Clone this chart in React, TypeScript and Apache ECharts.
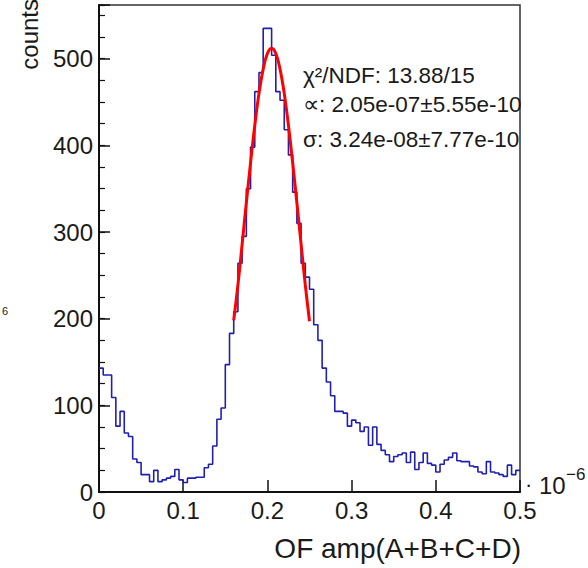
import React, { useEffect, useRef } from "react";
import * as echarts from "echarts";

const FONT = "'Liberation Sans', Arial, Helvetica, sans-serif";

// histogram: 100 bins from 0 to 0.5 (x 1e-6)
const binLow = 0;
const binWidth = 0.005;
const counts = [
  143, 135, 135, 109, 76, 93, 68, 64, 38, 34,
  20, 20, 12, 25, 12, 14, 16, 18, 26, 14,
  11, 16, 16, 17, 17, 28, 32, 53, 84, 97,
  147, 183, 208, 264, 295, 350, 398, 462, 484, 535,
  535, 504, 462, 452, 418, 389, 346, 310, 264, 248,
  234, 193, 175, 143, 127, 111, 93, 93, 91, 76,
  83, 80, 70, 75, 54, 75, 55, 48, 43, 35,
  41, 43, 45, 34, 46, 26, 34, 45, 33, 31,
  23, 32, 37, 40, 45, 36, 35, 35, 30, 29,
  23, 21, 35, 23, 22, 20, 18, 31, 20, 25,
];

// red fit curve
const fitX = [0.16, 0.165, 0.17, 0.175, 0.18, 0.185, 0.19, 0.195, 0.2, 0.205, 0.21, 0.215, 0.22, 0.225, 0.23, 0.235, 0.24, 0.245, 0.25];
const fitY = [198, 239, 286, 334, 380, 423, 460, 488, 506, 512, 506, 488, 460, 423, 380, 334, 286, 239, 197];

const xTickValues = [0, 0.1, 0.2, 0.3, 0.4, 0.5];
const statLines = ["χ²/NDF: 13.88/15", "∝: 2.05e-07±5.55e-10", "σ: 3.24e-08±7.77e-10"];
const xTitle = "OF amp(A+B+C+D)";
const yTitle = "counts";

export default function App() {
  const ref = useRef<HTMLDivElement>(null);
  useEffect(() => {
    if (!ref.current) return;
    const chart = echarts.init(ref.current, undefined, { renderer: "svg" });
    const histData: number[][] = counts.map((c, i) => [binLow + i * binWidth, c]);
    histData.push([binLow + counts.length * binWidth, counts[counts.length - 1]]);
    const fitData = fitX.map((x, i) => [x, fitY[i]]);
    const txt = "#1a1a1a";
    const grid = { left: 99, top: 5, width: 421, height: 487 };
    chart.setOption({
      animation: false,
      backgroundColor: "#fff",
      grid: [
        { ...grid, show: true, borderColor: "#333", borderWidth: 1.5, backgroundColor: "transparent" },
        { ...grid, show: false },
      ],
      xAxis: [
        {
          type: "value",
          gridIndex: 0,
          min: 0,
          max: 0.5,
          interval: 0.1,
          axisLine: { show: true, onZero: false, lineStyle: { color: "#111", width: 2 } },
          axisTick: { show: true, inside: true, length: 12, lineStyle: { color: "#111", width: 1.5 } },
          splitLine: { show: false },
          axisLabel: {
            fontSize: 24,
            color: txt,
            margin: 6,
            fontFamily: FONT,
            formatter: (v: number) => {
              const t = xTickValues.find((u) => Math.abs(u - v) < 1e-9);
              return t === undefined ? "" : t === 0 ? "0" : t.toFixed(1);
            },
          },
        },
        { type: "value", gridIndex: 1, min: 0, max: 0.5, show: false },
      ],
      yAxis: [
        {
          type: "value",
          gridIndex: 0,
          min: 0,
          max: 562,
          interval: 100,
          axisLine: { show: true, onZero: false, lineStyle: { color: "#111", width: 2 } },
          axisTick: { show: true, inside: true, length: 11, lineStyle: { color: "#111", width: 1.5 } },
          splitLine: { show: false },
          axisLabel: {
            fontSize: 24,
            color: txt,
            margin: 6,
            fontFamily: FONT,
            formatter: (v: number) => (v % 100 === 0 ? String(v) : ""),
          },
        },
        {
          type: "value",
          gridIndex: 1,
          min: 0,
          max: 562,
          interval: 25,
          position: "left",
          axisLine: { show: false },
          axisTick: { show: true, inside: true, length: 6, lineStyle: { color: "#111", width: 1.2 } },
          axisLabel: { show: false },
          splitLine: { show: false },
        },
      ],
      series: [
        {
          type: "line",
          xAxisIndex: 0,
          yAxisIndex: 0,
          step: "end",
          data: histData,
          showSymbol: false,
          lineStyle: { color: "#2020b0", width: 1.6 },
          z: 2,
        },
        {
          type: "line",
          xAxisIndex: 0,
          yAxisIndex: 0,
          smooth: 0.4,
          data: fitData,
          showSymbol: false,
          lineStyle: { color: "#ff0000", width: 3 },
          z: 3,
        },
      ],
      graphic: [
        ...statLines.map((s, i) => ({
          type: "text",
          x: 303,
          y: [75, 104, 139][i],
          style: { text: s, fontSize: 22.5, fontFamily: FONT, fill: txt, align: "left", verticalAlign: "middle" },
        })),
        {
          type: "text",
          x: 521,
          y: 548,
          style: { text: xTitle, fontSize: 28, fontFamily: FONT, fill: txt, align: "right", verticalAlign: "middle" },
        },
        {
          type: "text",
          x: 29,
          y: -1,
          rotation: Math.PI / 2,
          style: { text: yTitle, fontSize: 24, fontFamily: FONT, fill: txt, align: "right", verticalAlign: "middle" },
        },
        {
          type: "text",
          x: 525,
          y: 484,
          style: { text: "·", fontSize: 22, fontFamily: FONT, fill: txt, align: "left", verticalAlign: "middle" },
        },
        {
          type: "text",
          x: 539,
          y: 485,
          style: { text: "10", fontSize: 24, fontFamily: FONT, fill: txt, align: "left", verticalAlign: "middle" },
        },
        {
          type: "text",
          x: 566,
          y: 474,
          style: { text: "−6", fontSize: 17, fontFamily: FONT, fill: txt, align: "left", verticalAlign: "middle" },
        },
        {
          type: "text",
          x: 2,
          y: 311,
          style: { text: "6", fontSize: 11, fontFamily: FONT, fill: txt, align: "left", verticalAlign: "middle" },
        },
      ],
    });
    return () => chart.dispose();
  }, []);
  return <div ref={ref} style={{ position: "absolute", left: 0, top: 0, width: 588, height: 568 }} />;
}
